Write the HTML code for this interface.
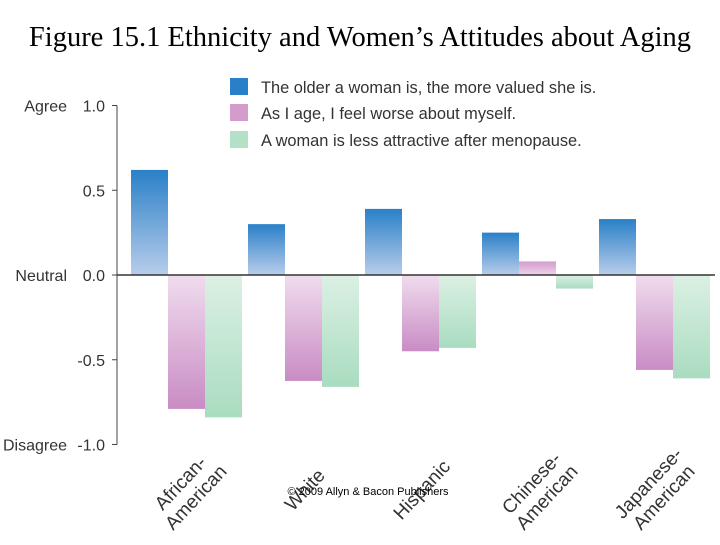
<!DOCTYPE html>
<html><head><meta charset="utf-8"><style>
body{margin:0;background:#fff;width:720px;height:540px;overflow:hidden}
svg text{font-family:"Liberation Sans",sans-serif}
</style></head><body>
<svg width="720" height="540">
<defs>
<linearGradient id="gb" x1="0" y1="0" x2="0" y2="1"><stop offset="0" stop-color="#2a80c8"/><stop offset="1" stop-color="#b8cdea"/></linearGradient>
<linearGradient id="gp" x1="0" y1="1" x2="0" y2="0"><stop offset="0" stop-color="#c98cc4"/><stop offset="1" stop-color="#f0dcee"/></linearGradient>
<linearGradient id="gpu" x1="0" y1="0" x2="0" y2="1"><stop offset="0" stop-color="#d49ccc"/><stop offset="1" stop-color="#ecd4ea"/></linearGradient>
<linearGradient id="gg" x1="0" y1="1" x2="0" y2="0"><stop offset="0" stop-color="#a9dcc0"/><stop offset="1" stop-color="#dcf0e4"/></linearGradient>
</defs>
<text x="360" y="46" text-anchor="middle" font-size="28.5" style="font-family:'Liberation Serif',serif">Figure 15.1  Ethnicity and Women’s Attitudes about Aging</text>
<g>
<rect x="230" y="78" width="18" height="17" fill="#2a80c8"/>
<text x="261" y="93" font-size="16.4" fill="#333">The older a woman is, the more valued she is.</text>
<rect x="230" y="104" width="18" height="17" fill="#d39ccc"/>
<text x="261" y="119" font-size="16.4" fill="#333">As I age, I feel worse about myself.</text>
<rect x="230" y="131" width="18" height="17" fill="#b5e0c8"/>
<text x="261" y="146" font-size="16.4" fill="#333">A woman is less attractive after menopause.</text>
</g>
<g id="axis"></g>
<g id="bars"></g>
<text x="368" y="495" text-anchor="middle" font-size="11">© 2009 Allyn &amp; Bacon Publishers</text>
</svg>
<script>
const categories=[["African-","American"],["White"],["Hispanic"],["Chinese-","American"],["Japanese-","American"]];
const valued=[0.62,0.30,0.39,0.25,0.33];
const worse=[-0.79,-0.625,-0.45,0.08,-0.56];
const attractive=[-0.84,-0.66,-0.43,-0.08,-0.61];
const ticks=[1.0,0.5,0.0,-0.5,-1.0];
const tickLabels=["1.0","0.5","0.0","-0.5","-1.0"];
const sideLabels={"1":"Agree","0":"Neutral","-1":"Disagree"};
const NS="http://www.w3.org/2000/svg";
const y=v=>275-v*169.5;
const gx=i=>131+i*117;
const BW=37;
function mk(t,a,p){const e=document.createElementNS(NS,t);for(const k in a)e.setAttribute(k,a[k]);p.appendChild(e);return e;}
const ax=document.getElementById('axis');
const yl=mk('line',{x1:117,y1:y(1),x2:117,y2:y(-1),stroke:'#444','stroke-width':1},ax);


ticks.forEach((t,i)=>{
 const tk=mk('line',{x1:112,x2:117,y1:y(t),y2:y(t),stroke:'#444'},ax);
 
 
 const tx=mk('text',{x:105,y:y(t)+6,'text-anchor':'end','font-size':16,fill:'#333'},ax);
 tx.textContent=tickLabels[i];
 
 
 if(sideLabels[String(t)]){const s=mk('text',{x:67,y:y(t)+6,'text-anchor':'end','font-size':16,fill:'#333'},ax);s.textContent=sideLabels[String(t)];
 
 }
});
const bg=document.getElementById('bars');
function bar(v,x,pos,neg,name){
 const top=Math.min(y(v),y(0)),h=Math.abs(y(v)-y(0));
 const r=mk('rect',{x:x,y:top,width:BW,height:h,fill:v>=0?pos:neg},bg);
 
 
}
categories.forEach((c,i)=>{
 bar(valued[i],gx(i),'url(#gb)','url(#gb)','bar-valued-'+i);
 bar(worse[i],gx(i)+BW,'url(#gpu)','url(#gp)','bar-worse-'+i);
 bar(attractive[i],gx(i)+2*BW,'url(#gg)','url(#gg)','bar-attractive-'+i);
 const cx=gx(i)+57,cy=490;
 const t=mk('text',{transform:`translate(${cx},${cy}) rotate(-47)`,'text-anchor':'middle','font-size':19,fill:'#333'},bg);
 
 
 c.forEach((l,j)=>{const ts=mk('tspan',{x:0,dy:j?21:(c.length>1?-4:6)},t);ts.textContent=l;});
});
const zl=mk('line',{x1:117,x2:715,y1:y(0),y2:y(0),stroke:'#333','stroke-width':1.5},bg);


</script>
</body></html>
